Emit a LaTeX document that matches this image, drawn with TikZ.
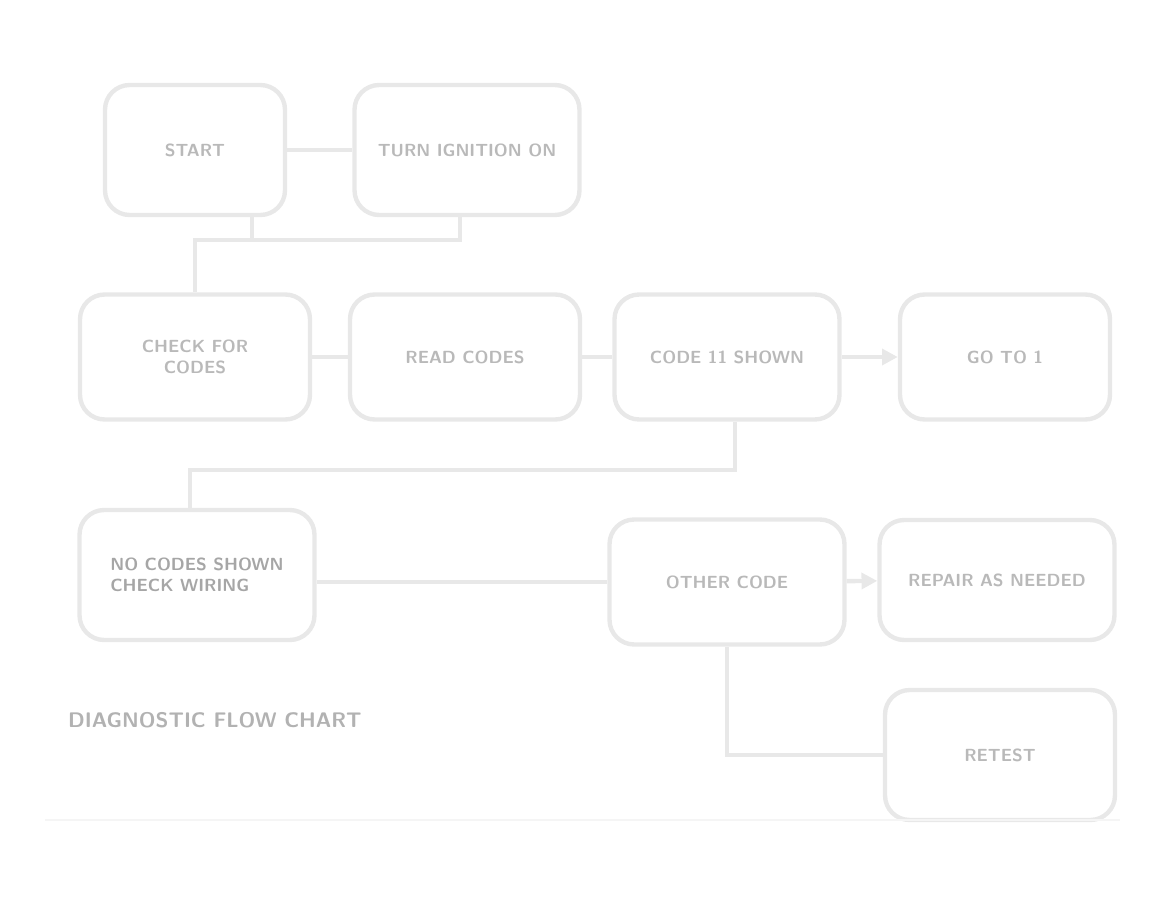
\documentclass[tikz,border=0pt]{standalone}
\usetikzlibrary{arrows.meta}
\tikzset{
  flowbox/.style={draw=gray!18, line width=2.5pt, rounded corners=14pt, align=center,
    text=gray!55, font=\bfseries\sffamily},
  flowline/.style={draw=gray!18, line width=2.5pt},
  flowarrow/.style={flowline, -{Triangle[length=9pt,width=9pt]}}
}
\begin{document}
\begin{tikzpicture}[x=0.02cm, y=-0.02cm]
  \useasboundingbox (0,0) rectangle (1167,899);
  % top row
  \node[flowbox, minimum width=3.6cm, minimum height=2.6cm] (start) at (195,150) {START};
  \node[flowbox, minimum width=4.5cm, minimum height=2.6cm] (ign) at (467,150) {TURN IGNITION ON};
  % middle row
  \node[flowbox, minimum width=4.6cm, minimum height=2.5cm] (codes) at (195,357) {CHECK FOR\\ CODES};
  \node[flowbox, minimum width=4.6cm, minimum height=2.5cm] (read) at (465,357) {READ CODES};
  \node[flowbox, minimum width=4.5cm, minimum height=2.5cm] (shown) at (727,357) {CODE 11 SHOWN};
  \node[flowbox, minimum width=4.2cm, minimum height=2.5cm] (goto) at (1005,357) {GO TO 1};
  % bottom rows
  \node[flowbox, minimum width=4.7cm, minimum height=2.6cm, align=left, text=gray!70] (none) at (197,575) {NO CODES SHOWN\\ CHECK WIRING};
  \node[flowbox, minimum width=4.7cm, minimum height=2.5cm] (other) at (727,582) {OTHER CODE};
  \node[flowbox, minimum width=4.7cm, minimum height=2.4cm] (repair) at (997,580) {REPAIR AS NEEDED};
  \node[flowbox, minimum width=4.6cm, minimum height=2.6cm] (retest) at (1000,755) {RETEST};
  \node[anchor=west, text=gray!60, font=\large\bfseries\sffamily] (title) at (62,720) {DIAGNOSTIC FLOW CHART};
  % connectors
  \coordinate (j1) at (195,240);
  \draw[flowline] (start) -- (ign);
  \draw[flowline] (start.south east) ++(-35,0) |- (j1);
  \draw[flowline] (ign.south) ++(-7,0) |- (j1) -- (codes.north);
  \draw[flowline] (codes) -- (read);
  \draw[flowline] (read) -- (shown);
  \draw[flowarrow] (shown) -- (goto);
  \coordinate (j2) at (190,470);
  \draw[flowline] (shown.south) ++(8,0) |- (j2) -- (none.north -| j2);
  \draw[flowline] (none.east |- other) -- (other.west);
  \draw[flowarrow] (other) -- (repair);
  \draw[flowline] (other.south) |- (retest.west);
  \draw[draw=gray!8, line width=1.5pt] (45,820) -- (1120,820);
\end{tikzpicture}
\end{document}
